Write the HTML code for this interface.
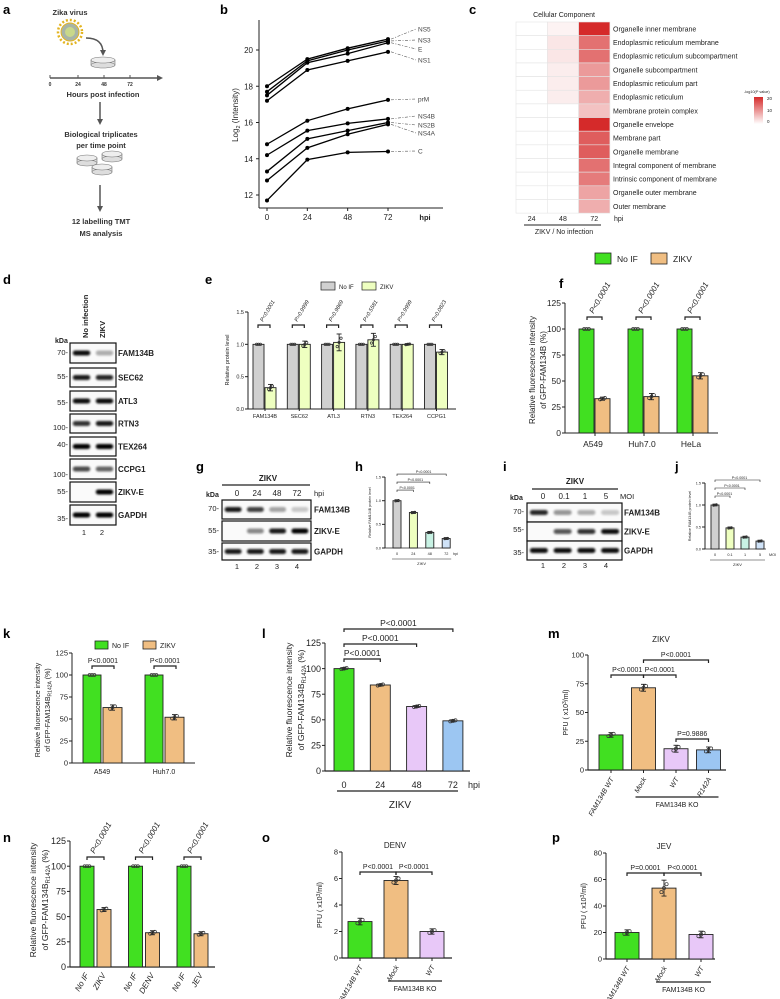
<!DOCTYPE html>
<html><head><meta charset="utf-8">
<style>html,body{margin:0;padding:0;background:#fff;}svg{display:block;}</style>
</head><body>
<svg id="fig" width="780" height="999" viewBox="0 0 780 999" font-family="'Liberation Sans', Arial, sans-serif">
<defs>
<filter id="blur" x="-20%" y="-50%" width="140%" height="200%"><feGaussianBlur stdDeviation="1.1"/></filter>
<linearGradient id="cgrad" x1="0" y1="1" x2="0" y2="0"><stop offset="0" stop-color="#ffffff"/><stop offset="1" stop-color="#d52a2a"/></linearGradient>
<marker id="ah" viewBox="0 0 10 10" refX="5" refY="5" markerWidth="4" markerHeight="4" orient="auto"><path d="M0,0L10,5L0,10z" fill="#555"/></marker>
</defs>
<!-- Panel a -->
<g fill="#333" font-weight="bold">
<text x="3" y="14" font-size="13" fill="#000">a</text>
<text x="70" y="15" font-size="7.5" text-anchor="middle">Zika virus</text>
<g>
<circle cx="70" cy="32" r="12" fill="none" stroke="#e3b420" stroke-width="2.5" stroke-dasharray="2 2"/>
<circle cx="70" cy="32" r="9" fill="#a8b4a6" stroke="#e3b420" stroke-width="1"/>
<circle cx="70" cy="32" r="5" fill="#c9d88a"/>
</g>
<path d="M86 38 Q103 38 103 53" fill="none" stroke="#555" stroke-width="1.5" marker-end="url(#ah)"/>
<g><rect x="91" y="60" width="24" height="5" fill="#ddd" stroke="#777" stroke-width="0.6"/><ellipse cx="103" cy="65" rx="12" ry="3" fill="#ddd" stroke="#777" stroke-width="0.6"/><ellipse cx="103" cy="60" rx="12" ry="3" fill="#eee" stroke="#777" stroke-width="0.6"/></g>
<line x1="50" y1="78" x2="160" y2="78" stroke="#555" stroke-width="1.5" marker-end="url(#ah)"/>
<g stroke="#555" stroke-width="1"><line x1="50" y1="75" x2="50" y2="78"/><line x1="78" y1="75" x2="78" y2="78"/><line x1="104" y1="75" x2="104" y2="78"/><line x1="130" y1="75" x2="130" y2="78"/></g>
<g font-size="5" text-anchor="middle"><text x="50" y="86">0</text><text x="78" y="86">24</text><text x="104" y="86">48</text><text x="130" y="86">72</text></g>
<text x="103" y="97" font-size="7.5" text-anchor="middle">Hours post infection</text>
<line x1="100" y1="102" x2="100" y2="122" stroke="#555" stroke-width="1.5" marker-end="url(#ah)"/>
<text x="101" y="137" font-size="7.5" text-anchor="middle">Biological triplicates</text>
<text x="101" y="148" font-size="7.5" text-anchor="middle">per time point</text>
<g stroke="#777" stroke-width="0.6">
<rect x="77" y="158" width="20" height="5" fill="#ddd"/><ellipse cx="87" cy="163" rx="10" ry="3" fill="#ddd"/><ellipse cx="87" cy="158" rx="10" ry="3" fill="#eee"/>
<rect x="102" y="154" width="20" height="5" fill="#ddd"/><ellipse cx="112" cy="159" rx="10" ry="3" fill="#ddd"/><ellipse cx="112" cy="154" rx="10" ry="3" fill="#eee"/>
<rect x="92" y="167" width="20" height="5" fill="#ddd"/><ellipse cx="102" cy="172" rx="10" ry="3" fill="#ddd"/><ellipse cx="102" cy="167" rx="10" ry="3" fill="#eee"/>
</g>
<line x1="100" y1="185" x2="100" y2="209" stroke="#555" stroke-width="1.5" marker-end="url(#ah)"/>
<text x="101" y="224" font-size="7.5" text-anchor="middle">12 labelling TMT</text>
<text x="101" y="236" font-size="7.5" text-anchor="middle">MS analysis</text>
</g>
<g font-weight="bold" font-size="13" fill="#000">
<text x="220" y="14">b</text>
<text x="469" y="14">c</text>
<text x="3" y="284">d</text>
<text x="205" y="284">e</text>
<text x="559" y="288">f</text>
<text x="196" y="471">g</text>
<text x="355" y="471">h</text>
<text x="503" y="471">i</text>
<text x="675" y="471">j</text>
<text x="3" y="638">k</text>
<text x="262" y="638">l</text>
<text x="548" y="638">m</text>
<text x="3" y="842">n</text>
<text x="262" y="842">o</text>
<text x="552" y="842">p</text>
</g>
</svg>
<script>
// ---------- data ----------
const bTimes=[0,24,48,72];
const bNames=['NS5','NS3','E','NS1','prM','NS4B','NS2B','NS4A','C'];
const bNS5=[18.0,19.5,20.1,20.6];
const bNS3=[17.7,19.4,20.0,20.5];
const bE=[17.5,19.3,19.8,20.4];
const bNS1=[17.2,18.9,19.4,19.9];
const bPrM=[14.8,16.1,16.75,17.25];
const bNS4B=[14.2,15.55,15.95,16.2];
const bNS2B=[13.3,15.1,15.55,16.0];
const bNS4A=[12.8,14.6,15.35,15.9];
const bC=[11.7,13.95,14.35,14.4];
const bYTicks=[12,14,16,18,20];

const cRows=['Organelle inner membrane','Endoplasmic reticulum membrane','Endoplasmic reticulum subcompartment','Organelle subcompartment','Endoplasmic reticulum part','Endoplasmic reticulum','Membrane protein complex','Organelle envelope','Membrane part','Organelle membrane','Integral component of membrane','Intrinsic component of membrane','Organelle outer membrane','Outer membrane'];
const cCols=['24','48','72'];
const c24=[0,0,0,0,0,0,0,0,0,0,0,0,0,0];
const c48=[1.2,2.5,2.5,1.8,1.8,1.8,0,0,0,0,0,0,0,0];
const c72=[21,14,14,10,10,8,6,22,16,16,14,13,9,8];

const eCats=['FAM134B','SEC62','ATL3','RTN3','TEX264','CCPG1'];
const eNoIF=[1,1,1,1,1,1];
const eZIKV=[0.33,1.0,1.03,1.07,1.0,0.88];
const eErr=[0.05,0.05,0.13,0.1,0.01,0.04];
const eP=['P<0.0001','P>0.9999','P=0.9869','P=0.5581','P>0.9999','P=0.0823'];
const eTicks=[0,0.5,1.0,1.5];

const fCats=['A549','Huh7.0','HeLa'];
const fNoIF=[100,100,100];
const fZIKV=[33,35,55];
const fErr=[1.5,3,3];
const fP=['P<0.0001','P<0.0001','P<0.0001'];
const fTicks=[0,25,50,75,100,125];

const hCats=['0','24','48','72'];
const hVals=[1.0,0.75,0.33,0.2];
const hTicks=[0,0.5,1.0,1.5];
const jCats=['0','0.1','1','5'];
const jVals=[1.0,0.48,0.27,0.18];

const kCats=['A549','Huh7.0'];
const kNoIF=[100,100];
const kZIKV=[63,52];
const kTicks=[0,25,50,75,100,125];

const lCats=['0','24','48','72'];
const lVals=[100,84,63,49];

const mCats=['FAM134B WT','Mock','WT','R142A'];
const mVals=[30.5,71.5,18.5,17.5];
const mErr=[2,3,3,2.5];
const mTicks=[0,25,50,75,100];

const nCats=['ZIKV','DENV','JEV'];
const nNoIF=[100,100,100];
const nVirus=[57,34,33];

const oCats=['FAM134B WT','Mock','WT'];
const oVals=[2.75,5.85,2.0];
const oErr=[0.25,0.3,0.2];
const oTicks=[0,2,4,6,8];
const pCats=['FAM134B WT','Mock','WT'];
const pVals=[20,53.5,18.5];
const pErr=[2,6,2.5];
const pTicks=[0,20,40,60,80];

// ---------- helpers ----------
const NS='http://www.w3.org/2000/svg';
const svg=document.getElementById('fig');
function el(tag,a,p,name){
  const e=document.createElementNS(NS,tag);
  for(const k in a)e.setAttribute(k,a[k]);
  
  
  (p||svg).appendChild(e);return e;
}
function tx(x,y,s,sz,anc,p,name,extra){
  const e=el('text',Object.assign({x:x,y:y,'font-size':sz,'text-anchor':anc||'start',fill:'#222'},extra||{}),p,name);
  e.textContent=s;return e;
}
function grp(name){return el('g',{},svg,name);}
function lin(p,x1,y1,x2,y2,name,w,c){return el('line',{x1:x1,y1:y1,x2:x2,y2:y2,stroke:c||'#222','stroke-width':w||1},p,name);}
function yAxis(p,x,yf,ticks,fs,name,fmt){
  const g=el('g',{},p,name);
  lin(g,x,yf(ticks[0]),x,yf(ticks[ticks.length-1]),'y-axis-line',1);
  ticks.forEach(t=>{lin(g,x-3,yf(t),x,yf(t),'y-tick',1);tx(x-4,yf(t)+fs*0.35,fmt?fmt(t):String(t),fs,'end',g,'y-tick-label');});
  return g;
}
function bar(p,x0,x1,y0,y1,fill,name){return el('rect',{x:x0,y:Math.min(y0,y1),width:x1-x0,height:Math.abs(y1-y0),fill:fill,stroke:'#222','stroke-width':0.9},p,name);}
function errDots(p,cx,v,e,yf,r,name){
  if(e>0){lin(p,cx,yf(v-e),cx,yf(v+e),name+'-errorbar',0.9);lin(p,cx-2.5,yf(v+e),cx+2.5,yf(v+e),name+'-errcap',0.9);lin(p,cx-2.5,yf(v-e),cx+2.5,yf(v-e),name+'-errcap',0.9);}
  [-1,0,1].forEach(k=>{el('circle',{cx:cx+k*r*1.6,cy:yf(v+k*e*0.5),r:r,fill:'none',stroke:'#333','stroke-width':0.7},p,name+'-replicate-dot');});
}
function bracket(p,x1,x2,y,label,fs,name,rot){
  el('path',{d:`M${x1} ${y+3}V${y}H${x2}V${y+3}`,fill:'none',stroke:'#222','stroke-width':1.2},p,name+'-bracket');
  if(rot){tx((x1+x2)/2-1,y-3,label,fs,'start',p,name+'-p-value',{transform:`rotate(-60 ${(x1+x2)/2-1} ${y-3})`,'font-style':'italic'});}
  else tx((x1+x2)/2,y-3,label,fs,'middle',p,name+'-p-value');
}

// ---------- panel b ----------
(function(){
  const g=grp('panel-b-line-chart');
  const xf=t=>267+t/72*121, yf=v=>195-(v-12)*145/8;
  lin(g,259,20,259,208,'y-axis-line',1);
  lin(g,259,208,443,208,'x-axis-line',1);
  bYTicks.forEach(t=>{lin(g,256,yf(t),259,yf(t),'y-tick');tx(253,yf(t)+3,String(t),8,'end',g,'y-tick-label');});
  bTimes.forEach(t=>{lin(g,xf(t),208,xf(t),211,'x-tick');tx(xf(t),220,String(t),8,'middle',g,'x-tick-label');});
  tx(425,220,'hpi',7.5,'middle',g,'x-axis-unit',{'font-weight':'bold'});
  const yt=tx(238,115,'',8,'middle',g,'y-axis-title',{transform:'rotate(-90 238 115)'});
  yt.innerHTML='Log<tspan font-size="5.5" dy="2">2</tspan><tspan dy="-2"> (Intensity)</tspan>';
  const series=[bNS5,bNS3,bE,bNS1,bPrM,bNS4B,bNS2B,bNS4A,bC];
  const labelY=[29,40,49,60,99,116,125,133,151];
  series.forEach((s,i)=>{
    el('polyline',{points:s.map((v,j)=>xf(bTimes[j])+','+yf(v)).join(' '),fill:'none',stroke:'#000','stroke-width':1.3},g,'series-line-'+bNames[i]);
    s.forEach((v,j)=>el('circle',{cx:xf(bTimes[j]),cy:yf(v),r:2,fill:'#000'},g,'point-'+bNames[i]));
    el('line',{x1:xf(72)+3,y1:yf(s[3]),x2:416,y2:labelY[i],stroke:'#555','stroke-width':0.6,'stroke-dasharray':'3 1.5 1 1.5'},g,'leader-'+bNames[i]);
    tx(418,labelY[i]+2.5,bNames[i],6.5,'start',g,'series-label-'+bNames[i],{fill:'#444'});
  });
})();

// ---------- panel c ----------
(function(){
  const g=grp('panel-c-heatmap');
  tx(564,17,'Cellular Component',7,'middle',g,'heatmap-title');
  const x0=516,w=31.3,y0=22,h=13.65;
  const cols=[c24,c48,c72];
  const col=v=>{const f=Math.min(v/21,1);return `rgb(${Math.round(255-f*42)},${Math.round(255-f*213)},${Math.round(255-f*213)})`;};
  cRows.forEach((r,i)=>{
    cols.forEach((c,j)=>el('rect',{x:x0+j*w,y:y0+i*h,width:w,height:h,fill:col(c[i]),stroke:'#e4e4e4','stroke-width':0.6},g,'heatmap-cell'));
    tx(613,y0+i*h+h/2+2.6,r,7,'start',g,'row-label');
  });
  cCols.forEach((c,j)=>tx(x0+j*w+w/2,221,c,7,'middle',g,'column-label'));
  tx(614,221,'hpi',7,'start',g,'column-unit');
  lin(g,524,225,601,225,'column-group-line',1);
  tx(564,234,'ZIKV / No infection',7,'middle',g,'column-group-label');
  el('rect',{x:754,y:97,width:9,height:27,fill:'url(#cgrad)'},g,'color-scale-bar');
  tx(744,93,'-log10(P value)',3.8,'start',g,'color-scale-title');
  [['20',100],['10',112],['0',123]].forEach(a=>tx(767,a[1],a[0],4.5,'start',g,'color-scale-label'));
})();

// ---------- blots ----------
function blot(p,x0,x1,y0,y1,lanes,ints,name){
  const g=el('g',{},p,name);
  el('rect',{x:x0,y:y0,width:x1-x0,height:y1-y0,fill:'#fafafa',stroke:'#111','stroke-width':1.2},g,'blot-frame');
  const lw=(x1-x0)/lanes;
  ints.forEach((v,i)=>{if(v>0)el('rect',{x:x0+i*lw+lw*0.12,y:(y0+y1)/2-2.5,width:lw*0.76,height:5,rx:2.5,fill:'#000',opacity:v,filter:'url(#blur)'},g,'band');});
  return g;
}
(function(){
  const g=grp('panel-d-western-blot');
  const rows=[['FAM134B',343,363,[0.95,0.3]],['SEC62',368,387,[0.9,0.85]],['ATL3',391,411,[0.95,0.95]],['RTN3',414,433,[0.8,0.9]],['TEX264',437,456,[1,1]],['CCPG1',459,479,[0.7,0.6]],['ZIKV-E',482,502,[0,1]],['GAPDH',505,525,[1,1]]];
  rows.forEach(r=>{blot(g,70,116,r[1],r[2],2,r[3],'blot-'+r[0]);tx(118,(r[1]+r[2])/2+3,r[0],8,'start',g,'protein-label',{'font-weight':'bold','font-stretch':'condensed'});});
  [['70',355],['55',379],['55',405],['100',430],['40',447],['100',477],['55',494],['35',521]].forEach(k=>tx(68,k[1],k[0]+'-',7.5,'end',g,'kda-marker'));
  tx(55,343,'kDa',7,'start',g,'kda-label',{'font-weight':'bold'});
  tx(88,338,'No infection',7.5,'start',g,'lane-header',{transform:'rotate(-90 88 338)','font-weight':'bold'});
  tx(105,338,'ZIKV',7.5,'start',g,'lane-header',{transform:'rotate(-90 105 338)','font-weight':'bold'});
  tx(84,535,'1',7.5,'middle',g,'lane-number');tx(102,535,'2',7.5,'middle',g,'lane-number');
})();
(function(){
  const g=grp('panel-g-western-blot');
  tx(268,481,'ZIKV',8,'middle',g,'blot-title',{'font-weight':'bold'});
  lin(g,222,485,310,485,'blot-title-line',1.2);
  tx(206,497,'kDa',7,'start',g,'kda-label',{'font-weight':'bold'});
  ['0','24','48','72'].forEach((s,i)=>tx(237+i*20,496,s,8,'middle',g,'lane-header'));
  tx(314,496,'hpi',7.5,'start',g,'lane-unit');
  [['FAM134B',500,519,[0.9,0.75,0.35,0.2],'70',511],['ZIKV-E',521,541,[0,0.45,0.9,1],'55',533],['GAPDH',543,560,[0.9,0.9,0.9,0.9],'35',554]].forEach(r=>{
    blot(g,222,311,r[1],r[2],4,r[3],'blot-'+r[0]);tx(314,(r[1]+r[2])/2+3,r[0],8,'start',g,'protein-label',{'font-weight':'bold'});tx(219,r[5],r[4]+'-',7.5,'end',g,'kda-marker');});
  ['1','2','3','4'].forEach((s,i)=>tx(237+i*20,569,s,7.5,'middle',g,'lane-number'));
})();
(function(){
  const g=grp('panel-i-western-blot');
  tx(575,484,'ZIKV',8,'middle',g,'blot-title',{'font-weight':'bold'});
  lin(g,532,489,618,489,'blot-title-line',1.2);
  tx(510,500,'kDa',7,'start',g,'kda-label',{'font-weight':'bold'});
  ['0','0.1','1','5'].forEach((s,i)=>tx(543+i*21,499,s,8,'middle',g,'lane-header'));
  tx(620,499,'MOI',7.5,'start',g,'lane-unit');
  [['FAM134B',503,522,[0.85,0.4,0.3,0.2],'70',514],['ZIKV-E',522,541,[0,0.65,0.8,0.95],'55',532],['GAPDH',541,560,[0.95,0.95,0.95,0.95],'35',555]].forEach(r=>{
    blot(g,527,622,r[1],r[2],4,r[3],'blot-'+r[0]);tx(624,(r[1]+r[2])/2+3,r[0],8,'start',g,'protein-label',{'font-weight':'bold'});tx(524,r[5],r[4]+'-',7.5,'end',g,'kda-marker');});
  ['1','2','3','4'].forEach((s,i)=>tx(543+i*21,568,s,7.5,'middle',g,'lane-number'));
})();

// ---------- panel e ----------
(function(){
  const g=grp('panel-e-bar-chart');
  const yf=v=>409-v*97/1.5;
  yAxis(g,248,yf,eTicks,5.5,'y-axis',t=>t.toFixed(1));
  lin(g,248,409,456,409,'x-axis-line');
  el('rect',{x:321,y:282,width:14,height:8,fill:'#d0d0d0',stroke:'#222','stroke-width':0.7},g,'legend-swatch-noif');
  tx(339,289,'No IF',6,'start',g,'legend-label-noif');
  el('rect',{x:362,y:282,width:14,height:8,fill:'#eeffc0',stroke:'#222','stroke-width':0.7},g,'legend-swatch-zikv');
  tx(380,289,'ZIKV',6,'start',g,'legend-label-zikv');
  tx(229,360,'Relative protein level',5.5,'middle',g,'y-axis-title',{transform:'rotate(-90 229 360)'});
  eCats.forEach((c,i)=>{
    const cx=265+i*34.3;
    bar(g,cx-12,cx-1,yf(0),yf(eNoIF[i]),'#d0d0d0','bar-noif');
    errDots(g,cx-6.5,eNoIF[i],0,yf,1.2,'noif');
    bar(g,cx,cx+11,yf(0),yf(eZIKV[i]),'#eeffc0','bar-zikv');
    errDots(g,cx+5.5,eZIKV[i],eErr[i],yf,1.2,'zikv');
    lin(g,cx,409,cx,411,'x-tick');
    tx(cx,418,c,5.5,'middle',g,'x-tick-label');
    bracket(g,cx-7,cx+5,325,eP[i],5.5,'e-comparison',true);
  });
})();

// ---------- panel f ----------
(function(){
  const g=grp('panel-f-bar-chart');
  const yf=v=>433-v*130/125;
  yAxis(g,565,yf,fTicks,8.5,'y-axis');
  lin(g,565,433,718,433,'x-axis-line');
  el('rect',{x:595,y:253,width:16,height:11,fill:'#41e021',stroke:'#222','stroke-width':0.8},g,'legend-swatch-noif');
  tx(617,262,'No IF',8.5,'start',g,'legend-label-noif');
  el('rect',{x:651,y:253,width:16,height:11,fill:'#f0be82',stroke:'#222','stroke-width':0.8},g,'legend-swatch-zikv');
  tx(673,262,'ZIKV',8.5,'start',g,'legend-label-zikv');
  tx(535,370,'Relative fluorescence intensity',8,'middle',g,'y-axis-title',{transform:'rotate(-90 535 370)'});
  tx(546,370,'of GFP-FAM134B (%)',8,'middle',g,'y-axis-title-2',{transform:'rotate(-90 546 370)'});
  fCats.forEach((c,i)=>{
    const cx=595+i*49;
    bar(g,cx-16,cx-1,yf(0),yf(fNoIF[i]),'#41e021','bar-noif');
    errDots(g,cx-8.5,fNoIF[i],0,yf,1.5,'noif');
    bar(g,cx,cx+15,yf(0),yf(fZIKV[i]),'#f0be82','bar-zikv');
    errDots(g,cx+7.5,fZIKV[i],fErr[i],yf,1.5,'zikv');
    lin(g,cx,433,cx,436,'x-tick');
    tx(cx-2,447,c,8.5,'middle',g,'x-tick-label');
    bracket(g,cx-8,cx+7,317,fP[i],8,'f-comparison',true);
  });
})();

// ---------- small panels h, j ----------
function smallBars(name,ax,x1,yf,cats,vals,unit,uX,x0c,step){
  const g=grp(name);
  const colors=['#d0d0d0','#eeffc0','#c8f2e4','#cfe2f7'];
  yAxis(g,ax,yf,hTicks,3.8,'y-axis',t=>t.toFixed(1));
  lin(g,ax,yf(0),x1,yf(0),'x-axis-line',0.8);
  tx(ax-14,yf(0.75),'Relative FAM134B protein level',3.6,'middle',g,'y-axis-title',{transform:`rotate(-90 ${ax-14} ${yf(0.75)})`});
  cats.forEach((c,i)=>{
    const cx=x0c+i*step;
    bar(g,cx-4,cx+4,yf(0),yf(vals[i]),colors[i],'bar');
    errDots(g,cx,vals[i],0.02,yf,0.9,'bar');
    tx(cx,yf(0)+7,c,3.8,'middle',g,'x-tick-label');
  });
  tx(uX,yf(0)+7,unit,3.8,'start',g,'x-axis-unit');
  lin(g,x0c-5,yf(0)+11,x0c+3*step+5,yf(0)+11,'group-line',0.6);
  tx(x0c+1.5*step,yf(0)+17,'ZIKV',4,'middle',g,'group-label');
  for(let k=1;k<4;k++){
    const y=yf(1.5)-3+ (3-k)*8;
    el('path',{d:`M${x0c} ${y+2}V${y}H${x0c+k*step}V${y+2}`,fill:'none',stroke:'#222','stroke-width':0.6},g,'comparison-bracket');
    tx(x0c+k*step/2+2,y-1,'P<0.0001',3.6,'middle',g,'p-value');
  }
}
smallBars('panel-h-bar-chart',385,450,v=>548-v*47.3,hCats,hVals,'hpi',453,397,16.4);
smallBars('panel-j-bar-chart',705,766,v=>549-v*44,jCats,jVals,'MOI',769,715,15);

// ---------- panel k ----------
(function(){
  const g=grp('panel-k-bar-chart');
  const yf=v=>763-v*110/125;
  yAxis(g,72,yf,kTicks,7.5,'y-axis');
  lin(g,72,763,195,763,'x-axis-line');
  el('rect',{x:95,y:641,width:13,height:8,fill:'#41e021',stroke:'#222','stroke-width':0.8},g,'legend-swatch-noif');
  tx(112,648,'No IF',7,'start',g,'legend-label-noif');
  el('rect',{x:143,y:641,width:13,height:8,fill:'#f0be82',stroke:'#222','stroke-width':0.8},g,'legend-swatch-zikv');
  tx(160,648,'ZIKV',7,'start',g,'legend-label-zikv');
  const t1=tx(40,710,'Relative fluorescence intensity',7,'middle',g,'y-axis-title',{transform:'rotate(-90 40 710)'});
  const t2=tx(50,710,'',7,'middle',g,'y-axis-title-2',{transform:'rotate(-90 50 710)'});
  t2.innerHTML='of GFP-FAM134B<tspan font-size="5" dy="1.5">R142A</tspan><tspan dy="-1.5"> (%)</tspan>';
  kCats.forEach((c,i)=>{
    const cx=102+i*62;
    bar(g,cx-19,cx-1,yf(0),yf(kNoIF[i]),'#41e021','bar-noif');
    errDots(g,cx-10,kNoIF[i],0,yf,1.5,'noif');
    bar(g,cx+1,cx+20,yf(0),yf(kZIKV[i]),'#f0be82','bar-zikv');
    errDots(g,cx+10.5,kZIKV[i],3,yf,1.5,'zikv');
    tx(cx,774,c,7,'middle',g,'x-tick-label');
    bracket(g,cx-10,cx+12,666,'P<0.0001',7,'k-comparison',false);
  });
})();

// ---------- panel l ----------
(function(){
  const g=grp('panel-l-bar-chart');
  const yf=v=>771-v*128/125;
  yAxis(g,325,yf,kTicks,9,'y-axis');
  lin(g,325,771,470,771,'x-axis-line',1.2);
  const colors=['#41e021','#f0be82','#e8c8f8','#9cc6f2'];
  tx(292,700,'Relative fluorescence intensity',8.5,'middle',g,'y-axis-title',{transform:'rotate(-90 292 700)'});
  const t2=tx(304,700,'',8.5,'middle',g,'y-axis-title-2',{transform:'rotate(-90 304 700)'});
  t2.innerHTML='of GFP-FAM134B<tspan font-size="6" dy="2">R142A</tspan><tspan dy="-2"> (%)</tspan>';
  const cxs=lCats.map((c,i)=>344+i*36.3);
  lCats.forEach((c,i)=>{
    bar(g,cxs[i]-10,cxs[i]+10,yf(0),yf(lVals[i]),colors[i],'bar');
    errDots(g,cxs[i],lVals[i],1,yf,1.6,'bar');
    tx(cxs[i],788,c,9,'middle',g,'x-tick-label');
  });
  tx(468,788,'hpi',9,'start',g,'x-axis-unit');
  lin(g,337,791,458,791,'group-line',1.2);
  tx(400,808,'ZIKV',10,'middle',g,'group-label');
  bracket(g,cxs[0],cxs[1],659,'P<0.0001',8.5,'l-comparison-24',false);
  bracket(g,cxs[0],cxs[2],644,'P<0.0001',8.5,'l-comparison-48',false);
  bracket(g,cxs[0],cxs[3],629,'P<0.0001',8.5,'l-comparison-72',false);
})();

// ---------- PFU panels m, o, p ----------
function pfu(name,ax,x1,yf,ticks,cats,vals,errs,c0,step,title,titleX,titleY,comps,koY){
  const g=grp(name);
  const colors=['#41e021','#f0be82','#e8c8f8','#9cc6f2'];
  yAxis(g,ax,yf,ticks,7.5,'y-axis');
  lin(g,ax,yf(0),x1,yf(0),'x-axis-line',1.2);
  tx(titleX,titleY,title,8,'middle',g,'chart-title');
  const my=(yf(ticks[0])+yf(ticks[ticks.length-1]))/2;
  const yt=tx(ax-20,my,'',7,'middle',g,'y-axis-title',{transform:`rotate(-90 ${ax-20} ${my})`});
  yt.innerHTML='PFU ( x10<tspan font-size="5" dy="-2">3</tspan><tspan dy="2">/ml)</tspan>';
  const cxs=cats.map((c,i)=>c0+i*step);
  cats.forEach((c,i)=>{
    bar(g,cxs[i]-12,cxs[i]+12,yf(0),yf(vals[i]),colors[i],'bar');
    errDots(g,cxs[i],vals[i],errs[i],yf,1.6,'bar');
    lin(g,cxs[i],yf(0),cxs[i],yf(0)+3,'x-tick');
    tx(cxs[i]+3,yf(0)+9,c,7,'end',g,'x-tick-label',{transform:`rotate(-60 ${cxs[i]+3} ${yf(0)+9})`,'font-style':'italic'});
  });
  comps.forEach(cp=>bracket(g,cxs[cp[0]],cxs[cp[1]],cp[2],cp[3],7,'pfu-comparison',false));
  lin(g,cxs[1]-8,koY,cxs[cats.length-1]+10,koY,'ko-group-line',1.2);
  tx((cxs[1]+cxs[cats.length-1])/2+1,koY+10,'FAM134B KO',7,'middle',g,'ko-group-label');
}
pfu('panel-m-bar-chart',588,726,v=>770-v*1.15,mTicks,mCats,mVals,mErr,611,32.5,'ZIKV',661,642,[[0,1,675,'P<0.0001'],[1,2,675,'P<0.0001'],[1,3,660,'P<0.0001'],[2,3,739,'P=0.9886']],797);
pfu('panel-o-bar-chart',342,452,v=>958-v*13.25,oTicks,oCats,oVals,oErr,360,36,'DENV',395,848,[[0,1,872,'P<0.0001'],[1,2,872,'P<0.0001']],981);
pfu('panel-p-bar-chart',606,715,v=>959-v*106/80,pTicks,pCats,pVals,pErr,627,37,'JEV',664,849,[[0,1,873,'P=0.0001'],[1,2,873,'P<0.0001']],982);

// ---------- panel n ----------
(function(){
  const g=grp('panel-n-bar-chart');
  const yf=v=>967-v*126/125;
  yAxis(g,70,yf,kTicks,9,'y-axis');
  lin(g,70,967,215,967,'x-axis-line',1.2);
  tx(36,900,'Relative fluorescence intensity',8.5,'middle',g,'y-axis-title',{transform:'rotate(-90 36 900)'});
  const t2=tx(48,900,'',8.5,'middle',g,'y-axis-title-2',{transform:'rotate(-90 48 900)'});
  t2.innerHTML='of GFP-FAM134B<tspan font-size="6" dy="2">R142A</tspan><tspan dy="-2"> (%)</tspan>';
  nCats.forEach((c,i)=>{
    const cx=95+i*48.5;
    bar(g,cx-15,cx-1,yf(0),yf(nNoIF[i]),'#41e021','bar-noif');
    errDots(g,cx-8,nNoIF[i],0,yf,1.5,'noif');
    bar(g,cx+2,cx+16,yf(0),yf(nVirus[i]),'#f0be82','bar-virus');
    errDots(g,cx+9,nVirus[i],2,yf,1.5,'virus');
    tx(cx-6,975,'No IF',8,'end',g,'x-tick-label',{transform:`rotate(-60 ${cx-6} 975)`,'font-style':'italic'});
    tx(cx+11,975,c,8,'end',g,'x-tick-label',{transform:`rotate(-60 ${cx+11} 975)`,'font-style':'italic'});
    bracket(g,cx-8,cx+9,857,'P<0.0001',8,'n-comparison',true);
  });
})();
</script>
</body></html>
